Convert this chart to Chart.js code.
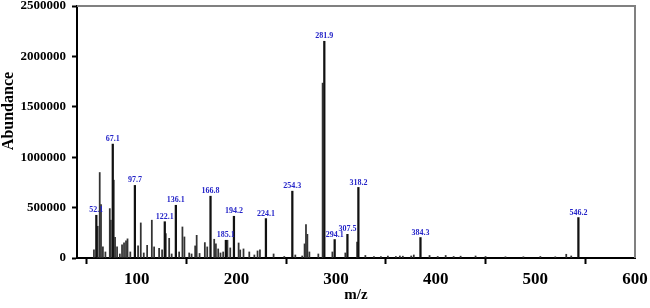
<!DOCTYPE html>
<html>
<head>
<meta charset="utf-8">
<script src="https://cdn.jsdelivr.net/npm/chart.js@4"></script>
<style>
  body { margin: 0; background: #fff; }
  #wrap { width: 650px; height: 308px; }
</style>
</head>
<body>
<div id="wrap"><canvas id="msChart"></canvas></div>
<script>
// labelled peaks (m/z position on the axis, abundance, label text)
const peakMz = [59.4, 75.9, 98.1, 128.1, 139.2, 174.0, 189.4, 197.5, 229.6, 256.1, 288.2, 298.6, 311.4, 322.4, 384.7, 543.2];
const peakAbundance = [424000, 1130000, 720000, 360000, 523000, 613000, 176000, 414000, 391000, 663000, 2150000, 183000, 235000, 700000, 203000, 401000];
const peakText = ["52.1", "67.1", "97.7", "122.1", "136.1", "166.8", "185.1", "194.2", "224.1", "254.3", "281.9", "294.1", "307.5", "318.2", "384.3", "546.2"];

// other peaks
const minorMz = [57.0, 60.8, 62.8, 64.1, 66.0, 68.5, 72.9, 73.9, 76.9, 78.2, 80.2, 83.0, 85.2, 87.2, 89.2, 90.7, 93.5,
  101.3, 104.0, 107.0, 110.4, 115.1, 117.4, 122.4, 125.4, 129.1, 132.5, 135.0, 142.5, 145.8, 147.8, 152.6, 155.0,
  158.6, 160.1, 163.0, 168.3, 170.7, 177.7, 179.4, 181.7, 184.0, 186.7, 191.0, 193.8, 202.2, 203.8, 207.1, 212.9,
  218.0, 221.2, 223.6, 237.3, 248.0, 259.1, 266.0, 268.4, 269.8, 271.2, 273.2, 282.2, 286.5, 296.3, 309.3, 321.1,
  329.4, 338.0, 345.0, 352.0, 360.0, 364.0, 367.0, 375.4, 378.0, 393.8, 402.0, 410.0, 418.0, 425.0, 440.0, 450.0,
  470.0, 488.0, 505.0, 520.0, 531.0, 536.0];
const minorAbundance = [80000, 315000, 848000, 530000, 110000, 60000, 490000, 375000, 772000, 205000, 110000, 40000, 130000, 150000, 170000, 190000, 60000,
  120000, 348000, 50000, 126000, 375000, 110000, 96000, 80000, 242000, 195000, 40000, 60000, 308000, 209000, 50000, 40000,
  120000, 225000, 45000, 153000, 110000, 186000, 140000, 90000, 50000, 60000, 176000, 100000, 149000, 80000, 90000, 60000,
  30000, 70000, 80000, 40000, 15000, 30000, 20000, 140000, 332000, 235000, 60000, 40000, 1735000, 60000, 50000, 159000,
  25000, 15000, 15000, 20000, 15000, 20000, 18000, 20000, 30000, 25000, 15000, 25000, 15000, 18000, 20000, 15000,
  12000, 12000, 15000, 12000, 37000, 20000];

const yTicks = [0, 500000, 1000000, 1500000, 2000000, 2500000];
const xTicks = [100, 200, 300, 400, 500, 600];

const serif = "'Liberation Serif', 'Times New Roman', serif";

function toPoints(xs, ys) {
  return xs.map((x, i) => ({ x: x, y: ys[i] }));
}

const frameAndLabels = {
  id: "frameAndLabels",
  afterDatasetsDraw(chart) {
    const ctx = chart.ctx;
    const area = chart.chartArea;
    ctx.save();
    // grey top / right frame
    ctx.strokeStyle = "#808080";
    ctx.lineWidth = 2;
    ctx.beginPath();
    ctx.moveTo(area.left, area.top);
    ctx.lineTo(area.right, area.top);
    ctx.lineTo(area.right, area.bottom);
    ctx.stroke();

    // peak labels
    const meta = chart.getDatasetMeta(0);
    ctx.fillStyle = "#2424c8";
    ctx.font = "bold 8px " + serif;
    ctx.textAlign = "center";
    ctx.textBaseline = "bottom";
    meta.data.forEach((bar, i) => {
      ctx.fillText(peakText[i], bar.x, bar.y - 1);
    });

    // y title
    ctx.fillStyle = "#000";
    ctx.font = "bold 16px " + serif;
    ctx.textBaseline = "middle";
    ctx.translate(9, 111);
    ctx.rotate(-Math.PI / 2);
    ctx.fillText("Abundance", 0, 0);
    ctx.restore();
  }
};

new Chart(document.getElementById("msChart"), {
  type: "bar",
  data: {
    datasets: [
      {
        data: toPoints(peakMz, peakAbundance),
        backgroundColor: "#111",
        barThickness: 1.6,
        grouped: false,
      },
      {
        data: toPoints(minorMz, minorAbundance),
        backgroundColor: "#333",
        barThickness: 1.1,
        grouped: false,
      },
    ],
  },
  options: {
    responsive: true,
    maintainAspectRatio: false,
    animation: false,
    layout: { padding: { top: 6, right: 15, left: 0, bottom: 0 } },
    plugins: {
      legend: { display: false },
      tooltip: { enabled: false },
    },
    scales: {
      x: {
        type: "linear",
        min: 40,
        max: 600,
        offset: false,
        afterBuildTicks: (scale) => {
          scale.ticks = xTicks.map((v) => ({ value: v }));
        },
        afterFit: (scale) => {
          scale.height = 50;
          scale.paddingLeft = 0;
          scale.paddingRight = 0;
        },
        grid: {
          drawOnChartArea: false,
          drawTicks: true,
          tickLength: 6,
          tickColor: "#000",
          tickWidth: 2,
        },
        border: { color: "#000", width: 2 },
        ticks: {
          color: "#000",
          padding: 5,
          maxRotation: 0,
          font: { family: serif, size: 17, weight: "bold" },
        },
        title: {
          display: true,
          text: "m/z",
          color: "#000",
          padding: { top: 0, bottom: 4 },
          font: { family: serif, size: 15, weight: "bold" },
        },
      },
      y: {
        min: 0,
        max: 2500000,
        afterBuildTicks: (scale) => {
          scale.ticks = yTicks.map((v) => ({ value: v }));
        },
        afterFit: (scale) => {
          scale.width = 77;
          scale.paddingTop = 0;
          scale.paddingBottom = 0;
        },
        grid: {
          drawOnChartArea: false,
          drawTicks: true,
          tickLength: 5,
          tickColor: "#000",
          tickWidth: 2,
        },
        border: { color: "#000", width: 2 },
        ticks: {
          color: "#000",
          padding: 6,
          font: { family: serif, size: 13, weight: "bold" },
          callback: (v) => String(v),
        },
      },
    },
  },
  plugins: [frameAndLabels],
});
</script>
</body>
</html>
